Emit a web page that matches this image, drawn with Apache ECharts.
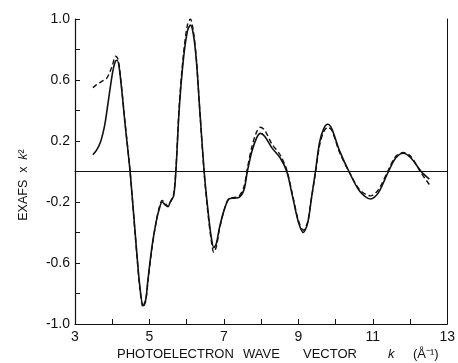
<!DOCTYPE html>
<html>
<head>
<meta charset="utf-8">
<script src="https://cdn.jsdelivr.net/npm/echarts@6/dist/echarts.min.js"></script>
<style>html,body{margin:0;padding:0;background:#fff}#c{width:458px;height:363px}</style>
</head>
<body>
<div id="c"></div>
<script>
var kSolid = [3.48,3.58,3.68,3.75,3.81,3.90,4.01,4.08,4.13,4.20,4.35,4.48,4.63,4.74,4.83,4.90,4.96,5.07,5.18,5.27,5.34,5.43,5.50,5.56,5.65,5.71,5.80,5.91,6.02,6.10,6.18,6.26,6.35,6.47,6.57,6.66,6.73,6.80,6.88,7.01,7.14,7.28,7.41,7.54,7.63,7.75,7.88,7.98,8.10,8.29,8.51,8.69,8.85,9.00,9.13,9.25,9.35,9.46,9.57,9.68,9.79,9.90,10.10,10.36,10.65,10.94,11.15,11.42,11.62,11.82,12.02,12.30,12.52];
var exafsSolid = [0.11,0.14,0.19,0.25,0.32,0.47,0.65,0.72,0.73,0.66,0.30,0.0,-0.445,-0.75,-0.88,-0.84,-0.71,-0.49,-0.33,-0.24,-0.20,-0.22,-0.23,-0.20,-0.16,0.0,0.41,0.73,0.92,0.96,0.90,0.73,0.41,0.0,-0.25,-0.43,-0.50,-0.47,-0.37,-0.25,-0.18,-0.175,-0.17,-0.12,0.0,0.13,0.22,0.25,0.23,0.155,0.09,0.0,-0.17,-0.33,-0.40,-0.34,-0.18,0.0,0.19,0.28,0.31,0.28,0.14,0.0,-0.13,-0.18,-0.14,0.0,0.09,0.12,0.09,0.0,-0.05];
var kDashed = [3.48,3.58,3.68,3.78,3.85,3.95,4.01,4.09,4.15,4.20,4.35,4.48,4.63,4.74,4.83,4.90,4.96,5.07,5.18,5.27,5.34,5.43,5.50,5.56,5.65,5.71,5.80,5.91,6.02,6.10,6.18,6.26,6.35,6.47,6.57,6.66,6.73,6.80,6.88,7.01,7.14,7.28,7.41,7.54,7.63,7.75,7.88,7.98,8.10,8.29,8.51,8.69,8.85,9.00,9.13,9.25,9.35,9.46,9.57,9.68,9.79,9.90,10.10,10.36,10.65,10.94,11.15,11.42,11.62,11.82,12.02,12.30,12.52];
var exafsDashed = [0.55,0.57,0.585,0.60,0.61,0.66,0.70,0.756,0.74,0.67,0.31,0.0,-0.45,-0.76,-0.89,-0.85,-0.72,-0.50,-0.33,-0.23,-0.19,-0.21,-0.23,-0.20,-0.15,0.01,0.43,0.76,0.96,1.0,0.92,0.74,0.41,-0.01,-0.27,-0.45,-0.53,-0.49,-0.38,-0.25,-0.175,-0.17,-0.16,-0.10,0.02,0.16,0.26,0.29,0.27,0.18,0.11,0.01,-0.16,-0.32,-0.385,-0.33,-0.18,-0.01,0.17,0.26,0.29,0.27,0.13,0.0,-0.12,-0.16,-0.12,0.01,0.10,0.125,0.10,-0.01,-0.085];
var xTickLabels = ['3','5','7','9','11','13'];
var yTickLabels = ['-1.0','-0.6','-0.2','0.2','0.6','1.0'];

function pairs(xs, ys){ return xs.map(function(x,i){ return [x, ys[i]]; }); }
var FONT = 'Liberation Sans';
var chart = echarts.init(document.getElementById('c'), null, {renderer:'canvas'});
function word(t, x, italic){
  return {type:'text', x:x, y:348, style:{text:t, fill:'#111', fontFamily:FONT, fontSize:13, fontStyle: italic ? 'italic' : 'normal'}};
}
chart.setOption({
  animation:false,
  backgroundColor:'#fff',
  grid:{left:75, right:5, top:19, bottom:39},
  xAxis:[{
    type:'value', min:3, max:13, interval:1,
    axisLine:{show:true, onZero:false, lineStyle:{color:'#111', width:1.2}},
    axisTick:{show:true, inside:true, length:5, lineStyle:{color:'#111'}},
    splitLine:{show:false},
    axisLabel:{color:'#111', fontFamily:FONT, fontSize:14, margin:6,
      formatter:function(v){ var s=String(Math.round(v)); return xTickLabels.indexOf(s)>=0 ? s : ''; }}
  },{
    type:'value', min:3, max:13, position:'top',
    axisLine:{show:true, lineStyle:{color:'#111', width:1.2}},
    axisTick:{show:false}, axisLabel:{show:false}, splitLine:{show:false}
  }],
  yAxis:[{
    type:'value', min:-1, max:1, interval:0.2,
    axisLine:{show:true, onZero:false, lineStyle:{color:'#111', width:1.2}},
    axisTick:{show:true, inside:true, length:5, lineStyle:{color:'#111'}},
    splitLine:{show:false},
    axisLabel:{color:'#111', fontFamily:FONT, fontSize:14, margin:5,
      formatter:function(v){ var s=(Math.round(v*10)/10).toFixed(1); return yTickLabels.indexOf(s)>=0 ? s : ''; }}
  },{
    type:'value', min:-1, max:1, position:'right',
    axisLine:{show:true, lineStyle:{color:'#111', width:1}},
    axisTick:{show:false}, axisLabel:{show:false}, splitLine:{show:false}
  }],
  series:[{
    type:'line', data:pairs(kSolid, exafsSolid), smooth:0.3, showSymbol:false,
    lineStyle:{color:'#111', width:1.6},
    markLine:{silent:true, symbol:'none', label:{show:false},
      lineStyle:{color:'#111', width:1, type:'solid'}, data:[{yAxis:0}]}
  },{
    type:'line', data:pairs(kDashed, exafsDashed), smooth:0.3, showSymbol:false,
    lineStyle:{color:'#111', width:1.4, type:[5,3]}
  }],
  graphic:[
    word('PHOTOELECTRON', 117),
    word('WAVE', 243),
    word('VECTOR', 303),
    word('k', 388, true),
    word('(Å⁻¹)', 413),
  {
    type:'text', x:24, y:185, rotation:Math.PI/2,
    style:{text:'EXAFS  x  {i|k}²', fill:'#111', fontFamily:FONT, fontSize:12.5, align:'center', verticalAlign:'middle',
      rich:{i:{fontStyle:'italic', fontFamily:FONT, fontSize:12.5, fill:'#111'}}}
  }]
});
</script>
</body>
</html>
